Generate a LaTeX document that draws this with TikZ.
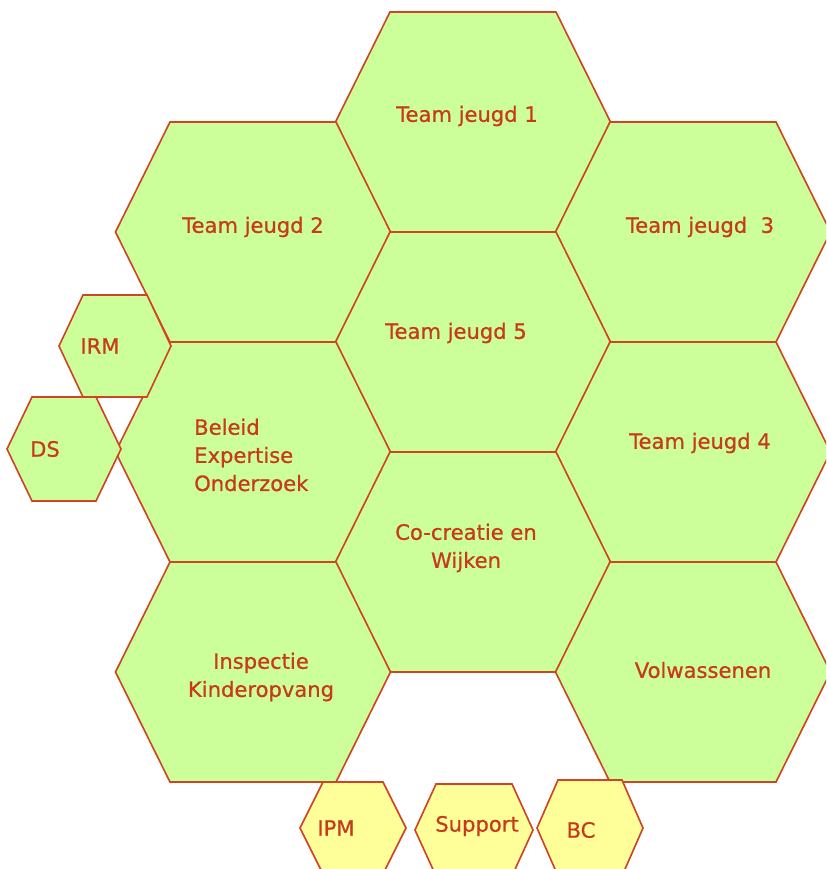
\documentclass[tikz,border=0pt]{standalone}
\usepackage{fontspec}
\setmainfont{DejaVu Sans}
\newfontfamily\hexfont{DejaVu Sans}[FakeBold=0.7]
\usepackage{xcolor}
\definecolor{HexGreen}{HTML}{CCFF99}
\definecolor{HexYellow}{HTML}{FFFF99}
\definecolor{HexLine}{HTML}{D04424}
\definecolor{HexText}{HTML}{C83A1C}
% hexagon: centre x, centre y, half width, half top edge, half height
\newcommand{\hexcell}[6][HexGreen]{%
  \draw[hexline,fill=#1] ({#2-#4},#3) -- ({#2-#5},{#3-#6}) -- ({#2+#5},{#3-#6})
    -- ({#2+#4},#3) -- ({#2+#5},{#3+#6}) -- ({#2-#5},{#3+#6}) -- cycle;}
\tikzset{
  hexline/.style={draw=HexLine,line width=1.4pt,line join=miter},
  celltext/.style={text=HexText,font=\hexfont\fontsize{18}{24}\selectfont,inner sep=0pt}
}
\begin{document}
\begin{tikzpicture}[x=0.03cm,y=-0.03cm]
        \useasboundingbox (0,0) rectangle (826,869);
        \clip (0,0) rectangle (826,869);

        \hexcell{473}{122}{137.5}{83}{110}
        \hexcell{253}{232}{137.5}{83}{110}
        \hexcell{693}{232}{137.5}{83}{110}
        \hexcell{473}{342}{137.5}{83}{110}
        \hexcell{253}{452}{137.5}{83}{110}
        \hexcell{693}{452}{137.5}{83}{110}
        \hexcell{473}{562}{137.5}{83}{110}
        \hexcell{253}{672}{137.5}{83}{110}
        \hexcell{693}{672}{137.5}{83}{110}

        \hexcell{115}{346}{56}{32}{51}
        \hexcell{64}{449}{57}{32}{52}

        \hexcell[HexYellow]{353}{828}{53}{30}{46}
        \hexcell[HexYellow]{474}{830}{59}{38}{46}
        \hexcell[HexYellow]{590}{828}{53}{32}{48}

        \node[celltext] (jeugd1) at (467,116) {Team jeugd 1};
        \node[celltext] (jeugd2) at (253,227) {Team jeugd 2};
        \node[celltext] (jeugd3) at (700,227) {Team jeugd\ \ 3};
        \node[celltext] (jeugd5) at (456,333) {Team jeugd 5};
        \node[celltext,anchor=west,align=left] (beleid) at (194,455)
          {Beleid\\Expertise\\Onderzoek};
        \node[celltext] (jeugd4) at (700,443) {Team jeugd 4};
        \node[celltext,align=center] (cocreatie) at (466,548)
          {Co-creatie en\\Wijken};
        \node[celltext,align=center] (inspectie) at (261,677)
          {Inspectie\\Kinderopvang};
        \node[celltext] (volwassenen) at (703,670) {Volwassenen};

        \node[celltext] (irm) at (100,346) {IRM};
        \node[celltext] (ds) at (45,449) {DS};
        \node[celltext] (ipm) at (336,828) {IPM};
        \node[celltext] (support) at (477,826) {Support};
        \node[celltext] (bc) at (581,830) {BC};
      \end{tikzpicture}
\end{document}
